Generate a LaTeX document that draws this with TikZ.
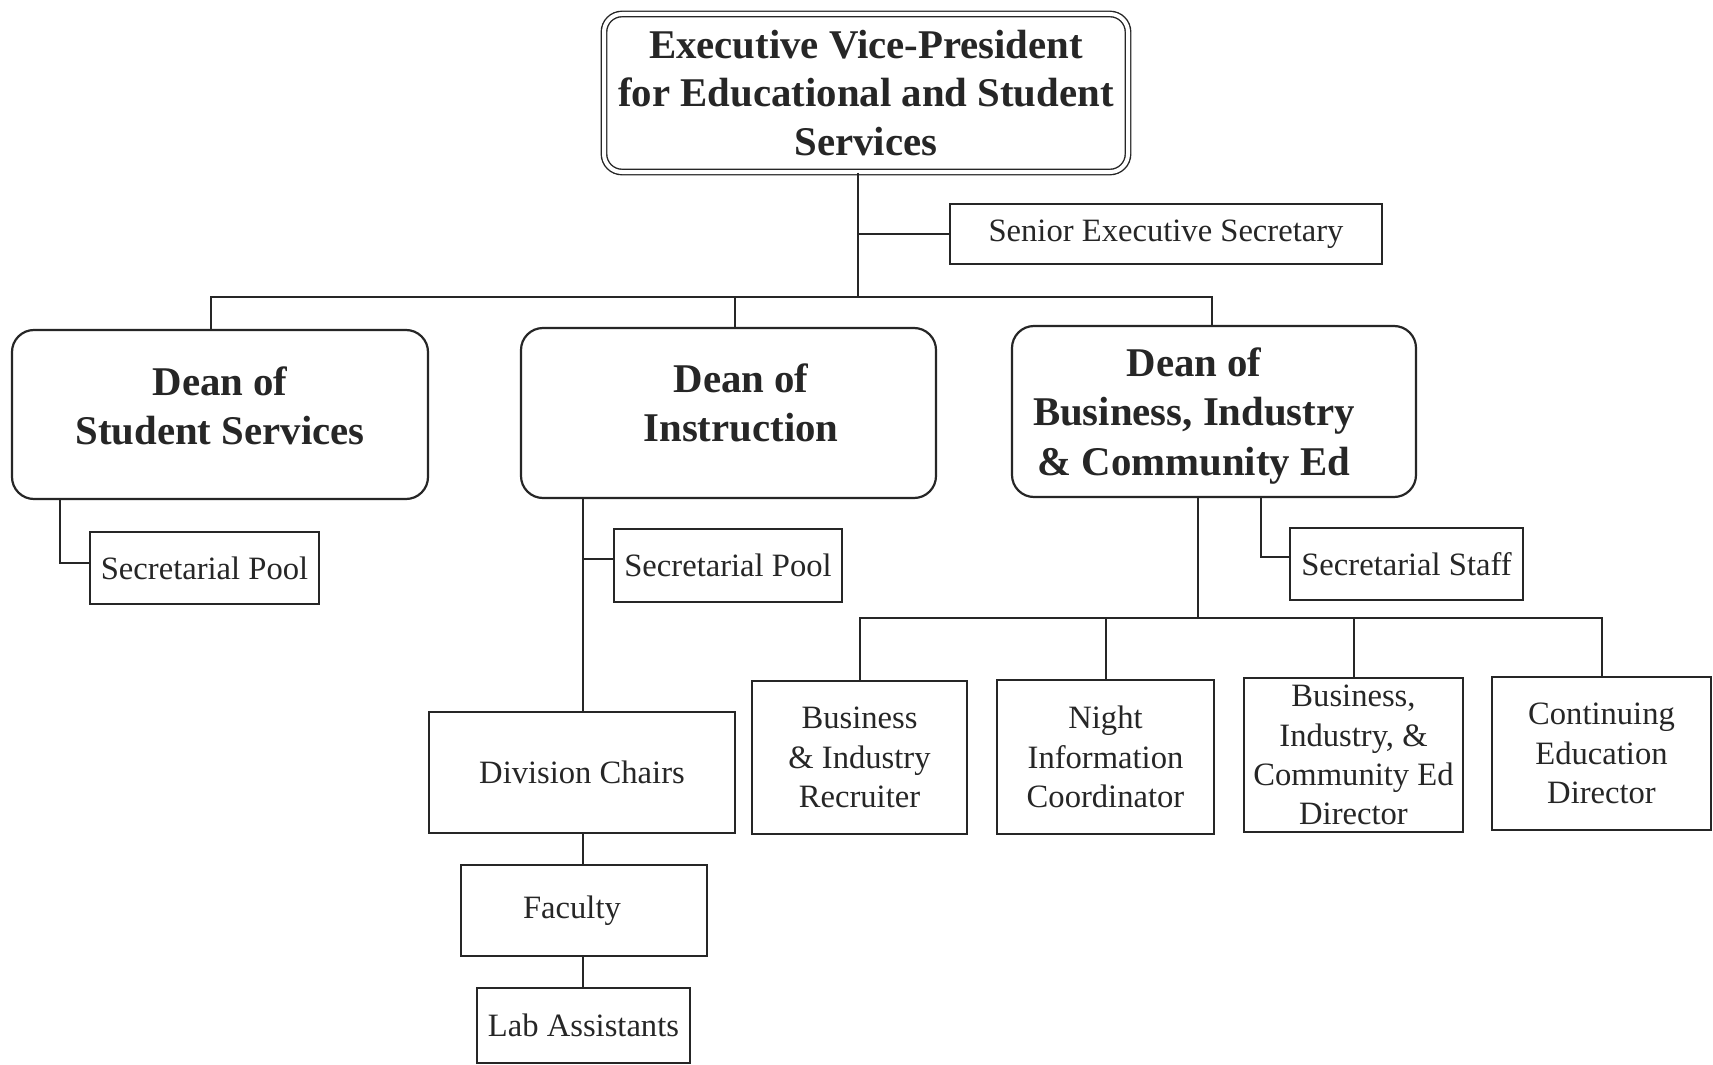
\documentclass[tikz,border=0pt]{standalone}
\usepackage{fontspec}
\setmainfont{Liberation Serif}
\definecolor{ink}{HTML}{262626}
\begin{document}
\begin{tikzpicture}[x=0.5pt,y=-0.5pt,
  ln/.style={draw=ink, line width=1pt},
  sz/.style n args={2}{minimum width=#1*0.5pt, minimum height=#2*0.5pt},
  plain/.style={draw=ink, line width=1.1pt, inner sep=0pt, align=center, text=ink,
    font=\fontsize{16.3}{19.6}\selectfont},
  deanbox/.style={draw=ink, line width=1.1pt, rounded corners=11pt, inner sep=0pt},
  deantext/.style={inner sep=0pt, align=center, text=ink,
    font=\fontsize{20.4}{24.6}\selectfont\bfseries},
  chief/.style={draw=ink, line width=0.7pt, double, double distance=2pt,
    rounded corners=9pt, inner sep=0pt, align=center, text=ink,
    font=\fontsize{20.4}{24.4}\selectfont\bfseries}]
\fill[white] (0,0) rectangle (1713,1065);
\useasboundingbox (0,0) rectangle (1713,1065);

% top of the chart
\node[chief, sz={524}{158}] (evp) at (866,93)
  {Executive Vice-President\\for Educational and Student\\Services};
\node[plain, sz={432}{60}] (ses) at (1166,234) {Senior Executive Secretary};

% deans: frames, then their titles
\node[deanbox, sz={416}{169}] (dss) at (220,414.5) {};
\node[deanbox, sz={415}{170}] (din) at (728.5,413) {};
\node[deanbox, sz={404}{171}] (dbc) at (1214,411.5) {};
\node[deantext] (dsst) at (220,405.5) {Dean of\\Student Services};
\node[deantext] (dint) at (741,403) {Dean of\\Instruction};
\node[deantext] (dbct) at (1194,416) {Dean of\\Business, Industry\\\& Community Ed};

% student services branch
\node[plain, sz={229}{72}] (sp1) at (204.5,568) {Secretarial Pool};

% instruction branch
\node[plain, sz={228}{73}] (sp2) at (728,565.5) {Secretarial Pool};
\node[plain, sz={306}{121}] (dch) at (582,772.5) {Division Chairs};
\node[plain, sz={246}{91}] (fac) at (584,910.5) {Faculty\hspace*{12pt}};
\node[plain, sz={213}{75}] (lab) at (583.5,1025.5) {Lab Assistants};

% business, industry & community ed branch
\node[plain, sz={233}{72}] (sst) at (1406.5,564) {Secretarial Staff};
\node[plain, sz={215}{153}] (b1) at (859.5,757.5) {Business\\\& Industry\\Recruiter};
\node[plain, sz={217}{154}] (b2) at (1105.5,757) {Night\\Information\\Coordinator};
\node[plain, sz={219}{154}] (b3) at (1353.5,755) {Business,\\Industry, \&\\Community Ed\\Director};
\node[plain, sz={219}{153}] (b4) at (1601.5,753.5) {Continuing\\Education\\Director};

% junction points
\coordinate (j0) at (858,297);
\coordinate (jl) at (211,297);
\coordinate (jm) at (735,297);
\coordinate (jr) at (1212,297);
\coordinate (k1) at (60,563);
\coordinate (k2) at (583,559);
\coordinate (k3) at (1261,557);
\coordinate (j2) at (1198,618);

% connectors
\draw[ln] (evp.south -| j0) -- (j0);
\draw[ln] (ses.west) -- (ses.west -| j0);
\draw[ln] (dss.north -| jl) -- (jl) -- (jr) -- (dbc.north -| jr);
\draw[ln] (jm) -- (din.north -| jm);

\draw[ln] (dss.south -| k1) -- (k1) -- (k1 -| sp1.west);

\draw[ln] (din.south -| k2) -- (k2 |- dch.north);
\draw[ln] (k2) -- (k2 -| sp2.west);
\draw[ln] (dch.south -| k2) -- (k2 |- fac.north);
\draw[ln] (fac.south -| k2) -- (k2 |- lab.north);

\draw[ln] (dbc.south -| j2) -- (j2);
\draw[ln] (dbc.south -| k3) -- (k3) -- (k3 -| sst.west);
\draw[ln] (b1.north) -- (b1.north |- j2) -- (b4.north |- j2) -- (b4.north);
\draw[ln] (b2.north) -- (b2.north |- j2);
\draw[ln] (b3.north) -- (b3.north |- j2);
\end{tikzpicture}
\end{document}
